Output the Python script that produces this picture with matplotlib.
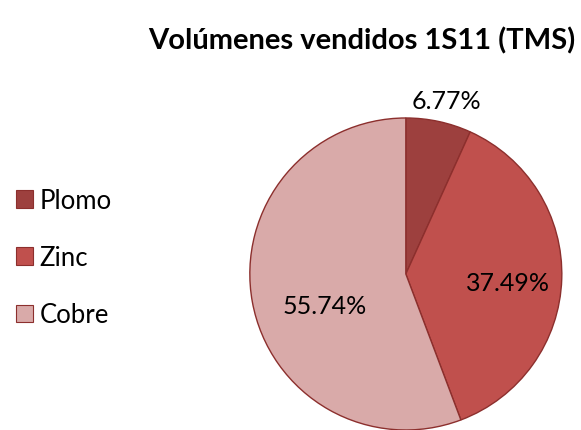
import numpy as np
import matplotlib.pyplot as plt
from matplotlib.patches import Patch

plt.rcParams['font.family'] = ['Lato', 'DejaVu Sans']

categories = ['Plomo', 'Zinc', 'Cobre']
values = [6.77, 37.49, 55.74]
colors = ['#9d403e', '#c0504d', '#d9aaa9']
# where each percentage label sits (fraction of radius, angle shift in degrees)
label_radius = [1.14, 0.66, 0.56]
label_shift = [-1, -3, 11]

fig = plt.figure(figsize=(5.81, 4.31), dpi=100)
ax = fig.add_axes([0.430, 0.0, 0.537, 0.724])

wedges, _ = ax.pie(values, colors=colors, startangle=90, counterclock=False,
                   wedgeprops=dict(edgecolor='#8c2f2d', linewidth=1.0))
ax.set_xlim(-1, 1)
ax.set_ylim(-1, 1)
ax.set_aspect('equal')

for w, v, r, s in zip(wedges, values, label_radius, label_shift):
    ang = np.deg2rad((w.theta1 + w.theta2) / 2 + s)
    ax.text(r * np.cos(ang), r * np.sin(ang), '%.2f%%' % v,
            ha='center', va='center', fontsize=18, color='black')

fig.text(0.623, 0.905, 'Volúmenes vendidos 1S11 (TMS)', ha='center', va='center',
         fontsize=21, fontweight='bold')

handles = [Patch(facecolor=c, edgecolor='#8c2f2d', linewidth=0.8) for c in colors]
fig.legend(handles, categories, loc='center left', bbox_to_anchor=(0.027, 0.40),
           frameon=False, fontsize=18.5, handlelength=0.66, handleheight=0.66,
           handletextpad=0.27, labelspacing=1.25, borderpad=0, borderaxespad=0)

fig.savefig('out.png', dpi=100)
